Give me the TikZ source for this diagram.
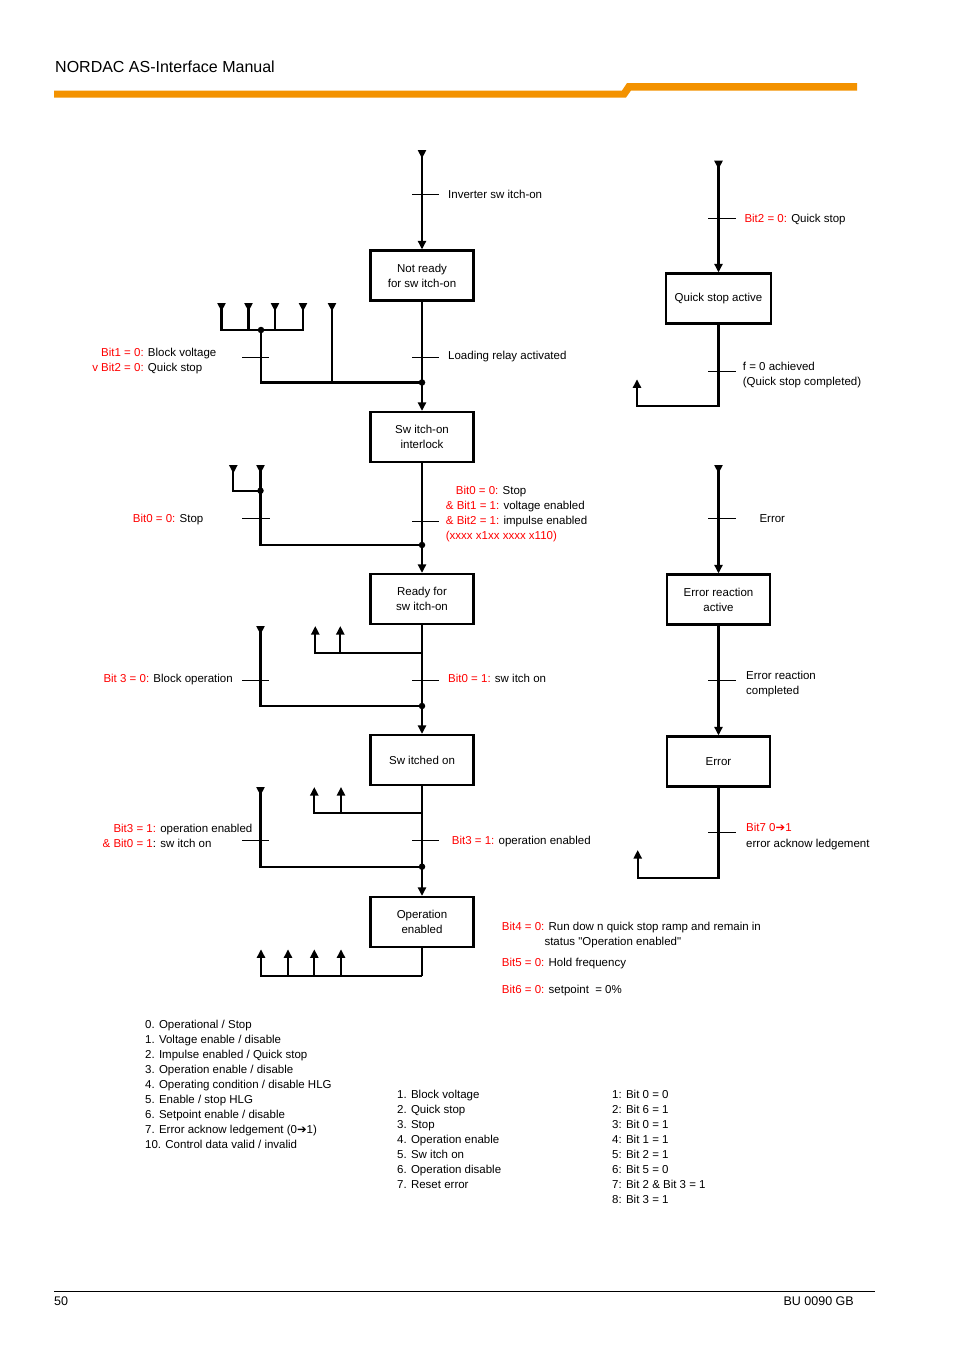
\documentclass[tikz,border=0pt]{standalone}
\usepackage{fontspec}
\setmainfont{Liberation Sans}
\newfontfamily\dejavu{DejaVu Sans}
\newfontfamily\qfont{Liberation Sans}[Ligatures=TeXOff]
\usetikzlibrary{arrows.meta}
\definecolor{nordorange}{RGB}{243,146,0}
\newcommand\rtx[1]{\textcolor{red}{#1}}
\newcommand\arw{{\dejavu\fontsize{11.5}{12}\selectfont ➔}}
\begin{document}
\begin{tikzpicture}[x=1pt,y=-1pt,font=\fontsize{11.5}{15}\selectfont]
\tikzset{
 box/.style={draw, line width=2.2pt, minimum width=103pt, minimum height=50pt, align=center, inner sep=0pt},
 conn/.style={line width=2.3pt},
 arr/.style={conn,-{Triangle[width=8pt,length=8.5pt]}},
 inarr/.style={conn,{Triangle[reversed,width=8pt,length=8.5pt]}-},
 inin/.style={conn,{Triangle[reversed,width=8pt,length=8.5pt]}-{Triangle[reversed,width=8pt,length=8.5pt]}},
 both/.style={conn,{Triangle[reversed,width=8pt,length=8.5pt]}-{Triangle[width=8pt,length=8.5pt]}},
 tick/.style={line width=0.8pt},
 txt/.style={anchor=base west, inner sep=0pt},
 dot/.style={circle, fill, inner sep=0pt, minimum size=6.5pt},
}
\useasboundingbox (0,0) rectangle (954,1350);
\fill[white] (0,0) rectangle (954,1350);

% header
\node[txt, font=\fontsize{16}{19}\selectfont] (title) at (55,72) {NORDAC AS-Interface Manual};
\fill[nordorange] (54,90.5) -- (622,90.5) -- (627,83) -- (857,83) -- (857,90.5) -- (631,90.5) -- (626,97.5) -- (54,97.5) -- cycle;

% footer
\draw[line width=1pt] (54,1291) -- (875,1291);
\node[txt, font=\fontsize{12.5}{15}\selectfont] (page) at (54,1305) {50};
\node[anchor=base east, inner sep=0pt, font=\fontsize{12.5}{15}\selectfont] (doc) at (854,1305) {BU 0090 GB};

% main boxes
\node[box] (nr) at (422,275.5) {Not ready\\for sw itch-on};
\node[box] (si) at (422,437) {Sw itch-on\\interlock};
\node[box] (rs) at (422,599) {Ready for\\sw itch-on};
\node[box] (so) at (422,760) {Sw itched on};
\node[box] (oe) at (422,922) {Operation\\enabled};

% right boxes
\node[box, minimum width=105pt] (qs) at (718.5,298.5) {Quick stop active};
\node[box] (er) at (718.5,599.5) {Error reaction\\active};
\node[box] (ee) at (718.5,761.5) {Error};

% ---- top: inverter switch-on
\coordinate (t0) at (422,150);
\draw[both] (t0) -- (nr.north);
\draw[tick] (412,194) -- (439,194);
\node[txt] (l1) at (448,198) {Inverter sw itch-on};

% ---- not ready -> switch-on interlock
\draw[arr] (nr.south) -- (si.north);
\coordinate (j1) at (422,382.5);
\draw[tick] (412,357) -- (439,357);
\node[txt] (l2) at (448,359) {Loading relay activated};
\coordinate (a1) at (221.5,303);
\coordinate (a2) at (248.5,303);
\coordinate (a3) at (275,303);
\coordinate (a4) at (303,303);
\coordinate (a5) at (332,303);
\coordinate (c1) at (261,330);
\draw[inin] (a1) |- (c1) -| (a4);
\draw[inarr] (a2) -- (a2 |- c1);
\draw[inarr] (a3) -- (a3 |- c1);
\draw[conn] (c1) |- (j1);
\draw[inarr] (a5) |- (j1);
\node[dot] (d1) at (c1) {};
\node[dot] (d2) at (j1) {};
\draw[tick] (242,357.5) -- (269,357.5);
\node[txt] (l3) at (101,356) {\rtx{Bit1 = 0:} Block voltage};
\node[txt] (l4) at (101,371) {\llap{\rtx{v }}\rtx{Bit2 = 0:} Quick stop};

% ---- switch-on interlock -> ready for switch-on
\draw[arr] (si.south) -- (rs.north);
\coordinate (j2) at (422,545);
\coordinate (b1) at (233.3,465);
\coordinate (b2) at (260.5,465);
\coordinate (c2) at (260.5,490.7);
\draw[inin] (b1) |- (c2) -- (b2);
\draw[conn] (c2) |- (j2);
\node[dot] (d3) at (c2) {};
\node[dot] (d4) at (j2) {};
\draw[tick] (242,518.5) -- (270,518.5);
\node[txt] (l5) at (132.7,522) {\rtx{Bit0 = 0:} Stop};
\draw[tick] (412,521) -- (439,521);
\node[txt] (l6) at (455.7,494) {\rtx{Bit0 = 0:} Stop};
\node[txt] (l7) at (445.7,509) {\rtx{\& Bit1 = 1:} voltage enabled};
\node[txt] (l8) at (445.7,524) {\rtx{\& Bit2 = 1:} impulse enabled};
\node[txt] (l9) at (445.7,539) {\rtx{(xxxx x1xx xxxx x110)}};

% ---- ready for switch-on -> switched on
\draw[arr] (rs.south) -- (so.north);
\coordinate (j3) at (422,706);
\coordinate (e1) at (260.5,626);
\draw[inarr, line width=2.8pt] (e1) |- (j3);
\node[dot] (d5) at (j3) {};
\coordinate (k3) at (422,652.7);
\coordinate (u1) at (315.3,626);
\coordinate (u2) at (340.3,626);
\draw[arr] (k3) -| (u1);
\draw[arr] (u2 |- k3) -- (u2);
\draw[tick] (242,680) -- (269,680);
\draw[tick] (412,680) -- (439,680);
\node[txt] (l10) at (103.3,682) {\rtx{Bit 3 = 0:} Block operation};
\node[txt] (l11) at (448,682) {\rtx{Bit0 = 1:} sw itch on};

% ---- switched on -> operation enabled
\draw[arr] (so.south) -- (oe.north);
\coordinate (j4) at (422,866.7);
\coordinate (f1) at (260.5,787);
\draw[inarr] (f1) |- (j4);
\node[dot] (d6) at (j4) {};
\coordinate (k4) at (422,813.3);
\coordinate (w1) at (314.3,787);
\coordinate (w2) at (341,787);
\draw[arr] (k4) -| (w1);
\draw[arr] (w2 |- k4) -- (w2);
\draw[tick] (242,840) -- (269,840);
\draw[tick] (412,840) -- (439,840);
\node[txt] (l12) at (113.3,832) {\rtx{Bit3 = 1:} operation enabled};
\node[txt] (l13) at (113.3,847) {\llap{\rtx{\& }}\rtx{Bit0 = 1}: sw itch on};
\node[txt] (l14) at (451.7,844) {\rtx{Bit3 = 1:} operation enabled};

% ---- operation enabled outputs
\coordinate (k5) at (422,975.7);
\coordinate (v1) at (261,949.3);
\coordinate (v2) at (288,949.3);
\coordinate (v3) at (314.3,949.3);
\coordinate (v4) at (341,949.3);
\draw[conn] (oe.south) -- (k5);
\draw[arr] (k5) -| (v1);
\draw[arr] (v2 |- k5) -- (v2);
\draw[arr] (v3 |- k5) -- (v3);
\draw[arr] (v4 |- k5) -- (v4);
\node[txt] (l15) at (501.7,930) {\rtx{Bit4 = 0:} Run dow n quick stop ramp and remain in};
\node[txt] (l16) at (544.3,945) {\qfont status "Operation enabled"};
\node[txt] (l17) at (501.7,966.7) {\rtx{Bit5 = 0:} Hold frequency};
\node[txt] (l18) at (501.7,993.3) {\rtx{Bit6 = 0:} setpoint\ \ = 0\%};

% ---- quick stop column
\coordinate (q0) at (718.5,160.7);
\draw[both] (q0) -- (qs.north);
\draw[tick] (708,218.3) -- (736,218.3);
\node[txt] (l19) at (744.3,222) {\rtx{Bit2 = 0:} Quick stop};
\coordinate (qc) at (637,405.7);
\coordinate (qe) at (637,379.3);
\draw[arr] (qs.south) |- (qc) -- (qe);
\draw[tick] (708,371) -- (736,371);
\node[txt] (l20) at (742.7,370) {f = 0 achieved};
\node[txt] (l21) at (742.7,385) {(Quick stop completed)};

% ---- error column
\coordinate (r0) at (718.5,465);
\draw[both] (r0) -- (er.north);
\draw[tick] (708,518.3) -- (736,518.3);
\node[txt] (l22) at (759.3,522) {Error};
\draw[arr] (er.south) -- (ee.north);
\draw[tick] (708,680) -- (736,680);
\node[txt] (l23) at (746,679) {Error reaction};
\node[txt] (l24) at (746,694) {completed};
\coordinate (rc) at (637.7,877.7);
\coordinate (re) at (637.7,850);
\draw[arr] (ee.south) |- (rc) -- (re);
\draw[tick] (708,832.3) -- (736,832.3);
\node[txt] (l25) at (746,831.7) {\rtx{Bit7 0\arw1}};
\node[txt] (l26) at (746,847) {error acknow ledgement};

% ---- legends
\foreach \t [count=\i from 0] in {0. Operational / Stop, 1. Voltage enable / disable, 2. Impulse enabled / Quick stop, 3. Operation enable / disable, 4. Operating condition / disable HLG, 5. Enable / stop HLG, 6. Setpoint enable / disable, 7. Error acknow ledgement (0\arw1), 10. Control data valid / invalid}
  \node[txt] (la\i) at (145,{1028+15*\i}) {\t};
\foreach \t [count=\i from 1] in {1. Block voltage, 2. Quick stop, 3. Stop, 4. Operation enable, 5. Sw itch on, 6. Operation disable, 7. Reset error}
  \node[txt] (lb\i) at (397,{1083+15*\i}) {\t};
\foreach \t [count=\i from 1] in {1: Bit 0 = 0, 2: Bit 6 = 1, 3: Bit 0 = 1, 4: Bit 1 = 1, 5: Bit 2 = 1, 6: Bit 5 = 0, 7: Bit 2 \& Bit 3 = 1, 8: Bit 3 = 1}
  \node[txt] (lc\i) at (612,{1083+15*\i}) {\t};
\end{tikzpicture}
\end{document}
